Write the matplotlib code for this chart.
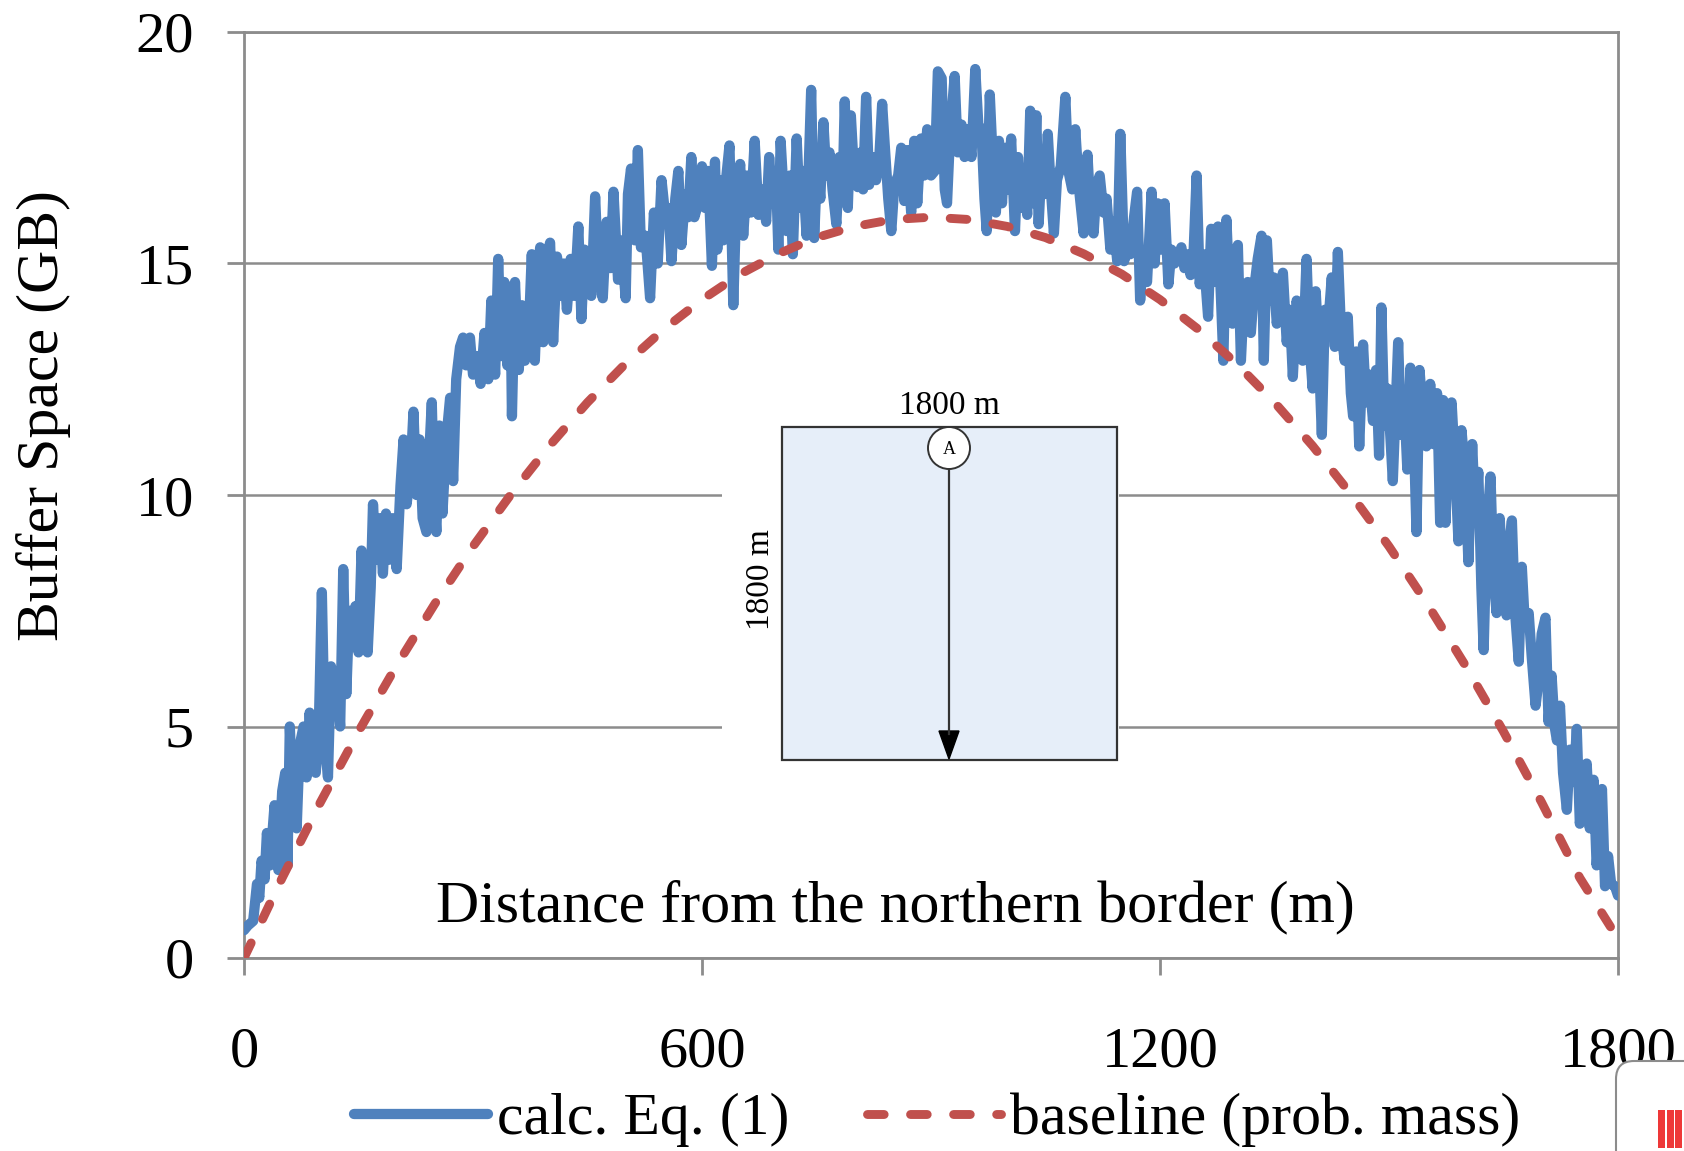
#!/usr/bin/env python3
"""Buffer space vs. distance from the northern border: Eq. (1) against the
probability-mass baseline, with the 1800 m x 1800 m area sketch as an inset."""
import matplotlib

matplotlib.use("Agg")
import matplotlib.pyplot as plt
from matplotlib.lines import Line2D
from matplotlib.patches import Circle, FancyBboxPatch, Polygon, Rectangle
from matplotlib.transforms import IdentityTransform

# ── data (distance m, buffer GB) ──
calc_0_300 = [
    (0, 0.6), (5, 0.7), (12, 0.8), (17, 1.6), (20, 1.3), (23, 2.1), (27, 1.7), (30, 2.7),
    (34, 2.0), (40, 3.3), (45, 1.9), (50, 3.6), (54, 4.0), (57, 2.0), (60, 5.0), (64, 3.4),
    (69, 2.8), (73, 4.6), (78, 5.0), (82, 3.9), (86, 5.3), (90, 4.2), (94, 4.0), (98, 5.0),
    (102, 7.9), (106, 4.6), (110, 3.9), (114, 6.3), (118, 5.6), (122, 6.0), (126, 5.0),
    (130, 8.4), (134, 5.7), (138, 7.5), (142, 6.8), (146, 7.6), (150, 6.6), (154, 8.8),
    (158, 7.5), (162, 6.6), (166, 8.0), (169, 9.8), (173, 8.6), (178, 9.5), (182, 8.3),
    (186, 9.6), (190, 8.6), (195, 9.5), (200, 8.4), (205, 10.2), (209, 11.2), (213, 9.8),
    (218, 10.5), (222, 11.8), (226, 10.0), (230, 11.2), (234, 9.5), (239, 9.2), (243, 11.0),
    (246, 12.0), (249, 10.0), (252, 9.2), (256, 11.5), (260, 9.6), (265, 11.2), (270, 12.1),
    (274, 10.3), (278, 12.5), (283, 13.2), (287, 13.4), (291, 12.8),
]
calc_300_615 = [
    (296, 13.4), (300, 12.6), (305, 13.0), (310, 12.4), (315, 13.5), (320, 12.5), (324, 14.2),
    (329, 12.6), (333, 15.1), (337, 13.0), (341, 14.6), (345, 12.8), (349, 14.5), (351, 11.7),
    (355, 14.6), (360, 12.7), (364, 14.1), (368, 12.9), (373, 13.5), (377, 15.2), (381, 12.9),
    (386, 15.0), (388, 15.35), (392, 13.3), (396, 15.1), (401, 15.45), (405, 13.3),
    (410, 15.15), (414, 14.3), (419, 15.0), (423, 14.0), (428, 15.1), (433, 14.3), (438, 15.8),
    (442, 13.8), (446, 15.3), (451, 14.8), (455, 14.3), (460, 16.45), (464, 14.9),
    (470, 14.25), (475, 15.9), (480, 14.9), (484, 16.55), (490, 14.65), (494, 15.5),
    (500, 14.25), (503, 16.5), (507, 17.05), (512, 15.5), (516, 17.45), (520, 15.35),
    (526, 15.6), (532, 14.25), (537, 16.1), (542, 15.0), (547, 16.8), (552, 16.0), (556, 16.2),
    (560, 15.05), (565, 16.4), (569, 17.0), (573, 15.4), (578, 16.5), (582, 16.0), (586, 17.3),
    (590, 16.0), (595, 16.3), (600, 17.1), (604, 16.2), (608, 17.0), (613, 14.95),
]
calc_615_935 = [
    (617, 17.2), (620, 15.3), (624, 16.8), (628, 15.5), (632, 16.9), (636, 17.55), (641, 14.1),
    (645, 16.4), (650, 17.15), (654, 15.6), (659, 16.9), (664, 16.1), (669, 17.65),
    (674, 16.05), (679, 16.6), (684, 15.9), (688, 17.3), (692, 16.3), (697, 16.9), (700, 15.3),
    (703, 17.65), (707, 16.5), (711, 15.7), (715, 16.9), (719, 15.2), (724, 17.7), (728, 16.2),
    (732, 17.0), (737, 15.6), (743, 18.75), (747, 15.55), (751, 17.2), (755, 16.4),
    (759, 18.05), (763, 16.9), (767, 17.4), (771, 16.6), (776, 15.85), (780, 17.3), (784, 16.4),
    (787, 18.5), (791, 16.2), (795, 18.2), (799, 17.0), (804, 16.65), (808, 17.4), (811, 16.6),
    (815, 18.6), (819, 16.7), (823, 17.3), (828, 16.8), (832, 17.2), (836, 18.45), (840, 17.4),
    (844, 16.4), (848, 15.7), (852, 16.7), (857, 16.9), (861, 17.5), (865, 16.35),
    (869, 17.45), (874, 16.1), (878, 17.65), (882, 16.3), (887, 17.7), (891, 16.9), (895, 17.9),
    (900, 16.9), (905, 17.0), (909, 19.15), (914, 19.0), (918, 16.6), (921, 16.3), (925, 17.8),
    (931, 19.05),
]
calc_935_1250 = [
    (935, 17.4), (940, 18.0), (944, 17.3), (949, 17.9), (953, 17.3), (958, 19.2), (962, 18.0),
    (966, 17.9), (970, 16.4), (973, 15.7), (977, 18.65), (981, 17.2), (985, 16.1),
    (989, 17.65), (993, 16.3), (997, 17.5), (1001, 16.6), (1005, 17.7), (1010, 15.7),
    (1014, 17.3), (1018, 16.2), (1022, 17.0), (1026, 16.05), (1030, 18.3), (1034, 16.3),
    (1038, 18.2), (1041, 15.85), (1045, 17.2), (1049, 16.5), (1053, 17.8), (1057, 16.6),
    (1061, 15.65), (1065, 16.8), (1070, 17.1), (1076, 18.6), (1080, 17.0), (1085, 16.6),
    (1089, 17.9), (1094, 16.6), (1100, 15.65), (1105, 17.35), (1109, 16.1), (1113, 15.65),
    (1117, 16.7), (1121, 16.9), (1126, 16.1), (1130, 16.4), (1135, 15.3), (1139, 15.9),
    (1144, 15.05), (1148, 17.8), (1153, 15.05), (1157, 15.4), (1161, 15.2), (1166, 16.0),
    (1170, 16.55), (1174, 14.2), (1178, 15.2), (1183, 14.6), (1189, 16.55), (1193, 15.0),
    (1197, 16.3), (1202, 15.3), (1206, 16.3), (1211, 14.55), (1215, 15.3), (1219, 15.0),
    (1223, 15.1), (1228, 15.35), (1232, 14.9), (1236, 15.2), (1240, 14.75), (1244, 15.25),
    (1248, 16.9),
]
calc_1250_1540 = [
    (1252, 14.55), (1257, 15.2), (1263, 13.85), (1267, 15.75), (1271, 14.6), (1276, 15.8),
    (1280, 14.2), (1283, 12.9), (1287, 15.95), (1291, 14.4), (1295, 13.7), (1298, 15.2),
    (1302, 15.4), (1306, 12.9), (1310, 14.3), (1315, 14.6), (1319, 13.5), (1323, 14.4),
    (1328, 15.1), (1333, 15.6), (1336, 12.9), (1340, 15.5), (1344, 14.2), (1349, 14.7),
    (1353, 13.7), (1357, 14.3), (1361, 14.8), (1366, 13.3), (1370, 14.0), (1374, 12.55),
    (1379, 14.2), (1383, 13.6), (1387, 12.9), (1392, 15.1), (1396, 13.2), (1400, 12.3),
    (1404, 14.4), (1408, 13.1), (1412, 11.3), (1416, 14.0), (1420, 13.6), (1425, 14.7),
    (1429, 13.2), (1433, 15.25), (1437, 13.6), (1442, 12.9), (1446, 13.85), (1450, 12.2),
    (1453, 11.7), (1457, 13.1), (1461, 11.05), (1466, 13.25), (1470, 12.0), (1474, 12.6),
    (1479, 11.6), (1483, 12.7), (1487, 10.85), (1490, 14.05), (1494, 11.5), (1498, 12.3),
    (1502, 11.2), (1505, 10.3), (1509, 12.0), (1512, 13.3), (1516, 11.3), (1520, 12.0),
    (1524, 10.55), (1528, 12.75), (1532, 11.6), (1536, 9.2), (1540, 12.7),
]
calc_1540_1800 = [
    (1545, 11.6), (1549, 11.05), (1554, 12.4), (1558, 11.1), (1563, 12.2), (1567, 9.4),
    (1571, 12.05), (1574, 9.4), (1578, 11.5), (1582, 12.0), (1586, 10.8), (1591, 9.0),
    (1595, 11.4), (1600, 10.4), (1604, 8.55), (1609, 11.1), (1613, 9.5), (1617, 10.5),
    (1621, 8.0), (1624, 6.65), (1628, 9.2), (1633, 10.4), (1637, 8.2), (1641, 7.45),
    (1645, 9.5), (1650, 8.0), (1654, 7.4), (1658, 9.0), (1661, 9.45), (1665, 7.5), (1670, 6.4),
    (1674, 8.45), (1678, 7.2), (1683, 7.45), (1687, 6.5), (1692, 5.45), (1696, 6.0),
    (1700, 7.0), (1705, 7.35), (1709, 5.1), (1713, 6.1), (1717, 5.0), (1720, 4.7),
    (1724, 5.45), (1728, 4.0), (1733, 3.2), (1737, 4.5), (1742, 3.8), (1746, 4.95),
    (1750, 2.9), (1755, 3.6), (1759, 4.2), (1763, 2.8), (1768, 3.85), (1772, 2.0), (1776, 2.9),
    (1779, 3.65), (1783, 1.55), (1787, 2.2), (1791, 1.6), (1796, 1.55), (1800, 1.35),
]

baseline_dist = [0, 50, 100, 150, 200, 250, 300, 350, 400, 450, 500, 550, 600, 650, 700, 750,
                 800, 850, 900, 950, 1000, 1050, 1100, 1150, 1200, 1250, 1300, 1350, 1400,
                 1450, 1500, 1550, 1600, 1650, 1700, 1750, 1793]
baseline_gb = [0.0, 1.73, 3.36, 4.89, 6.32, 7.65, 8.89, 10.02, 11.06, 12.0, 12.84, 13.58,
               14.22, 14.77, 15.21, 15.56, 15.8, 15.95, 16.0, 15.95, 15.8, 15.56, 15.21, 14.77,
               14.22, 13.58, 12.84, 12.0, 11.06, 10.02, 8.89, 7.65, 6.32, 4.89, 3.36, 1.73, 0.6]

x_ticks = [0, 600, 1200, 1800]
y_ticks = [0, 5, 10, 15, 20]
series_labels = ["calc. Eq. (1)", "baseline (prob. mass)"]

BLUE = "#4F81BD"
RED = "#C0504D"
GRAY = "#8c8c8c"
INK = "#333333"
BLUE_LW = 7.4
RED_LW = 6.4
RED_DASH = (12, 19)

plt.rcParams["font.family"] = ["Liberation Serif", "DejaVu Serif"]
plt.rcParams["lines.scale_dashes"] = False

W, H = 1684, 1151
fig = plt.figure(figsize=(W / 100, H / 100), dpi=100)
ax = fig.add_axes([244 / W, 1 - 958 / H, (1618 - 244) / W, (958 - 32) / H])

calc = calc_0_300 + calc_300_615 + calc_615_935 + calc_935_1250 + calc_1250_1540 + calc_1540_1800
calc_dist = [d for d, _ in calc]
calc_gb = [g for _, g in calc]

ax.plot(calc_dist, calc_gb, color=BLUE, lw=BLUE_LW, solid_joinstyle="round",
        solid_capstyle="round", zorder=3)
ax.plot(baseline_dist, baseline_gb, color=RED, lw=RED_LW, dashes=RED_DASH,
        dash_capstyle="round", zorder=4)

ax.set_xlim(0, 1800)
ax.set_ylim(0, 20)
ax.set_xticks(x_ticks)
ax.set_yticks(y_ticks)
ax.set_xticklabels([str(t) for t in x_ticks])
ax.set_yticklabels([str(t) for t in y_ticks])
ax.tick_params(direction="out", length=12, width=2, color=GRAY, labelsize=42)
ax.tick_params(axis="x", pad=37)
ax.tick_params(axis="y", pad=24)
ax.yaxis.grid(True, color=GRAY, lw=1.8)
ax.set_axisbelow(True)
for s in ax.spines.values():
    s.set_color(GRAY)
    s.set_linewidth(2)

ax.text(853, 1.1, "Distance from the northern border (m)", fontsize=43,
        ha="center", va="center", zorder=5)
fig.text(44 / W, 1 - 416 / H, "Buffer Space (GB)", fontsize=43, rotation=90,
         ha="center", va="center")

handles = [
    Line2D([], [], color=BLUE, lw=BLUE_LW, solid_capstyle="round"),
    Line2D([], [], color=RED, lw=RED_LW, dashes=RED_DASH, dash_capstyle="round"),
]
fig.legend(handles, series_labels, loc="center", bbox_to_anchor=(937 / W, 31 / H), ncol=2,
           frameon=False, fontsize=43, handlelength=2.25, handletextpad=0.15,
           columnspacing=1.3, borderpad=0, borderaxespad=0)

# ── inset sketch (pixel coordinates of the white panel) ──
ins = fig.add_axes([722 / W, 1 - 765 / H, (1119 - 722) / W, (765 - 383) / H])
ins.set_xlim(722, 1119)
ins.set_ylim(765, 383)
ins.set_xticks([])
ins.set_yticks([])
ins.set_facecolor("white")
for s in ins.spines.values():
    s.set_visible(False)
ins.add_patch(Rectangle((782, 427), 335, 333, fc="#E6EEF9", ec=INK, lw=1.6))
ins.plot([949, 949], [469, 734], color=INK, lw=1.6)
ins.add_patch(Polygon([(939, 731), (959, 731), (949, 759)], closed=True, fc="black", ec="black"))
ins.add_patch(Circle((949, 448), 21, fc="white", ec=INK, lw=1.4, zorder=5))
ins.text(949, 449, "A", fontsize=13, ha="center", va="center", zorder=6)
ins.text(949, 406, "1800 m", fontsize=24, ha="center", va="center")
ins.text(761, 580, "1800 m", fontsize=24, rotation=90, ha="center", va="center")

# ── corner badge cut off in the screenshot ──
badge = FancyBboxPatch((1616, -20), 120, 110, boxstyle="round,pad=0,rounding_size=18",
                       fc="white", ec=GRAY, lw=1.5, transform=IdentityTransform())
fig.patches.append(badge)
for x0 in (1658, 1667, 1675):
    fig.patches.append(Rectangle((x0, 3), 7, 38, fc="#EE3838", ec="none",
                                 transform=IdentityTransform()))

fig.savefig("out.png", dpi=100)
